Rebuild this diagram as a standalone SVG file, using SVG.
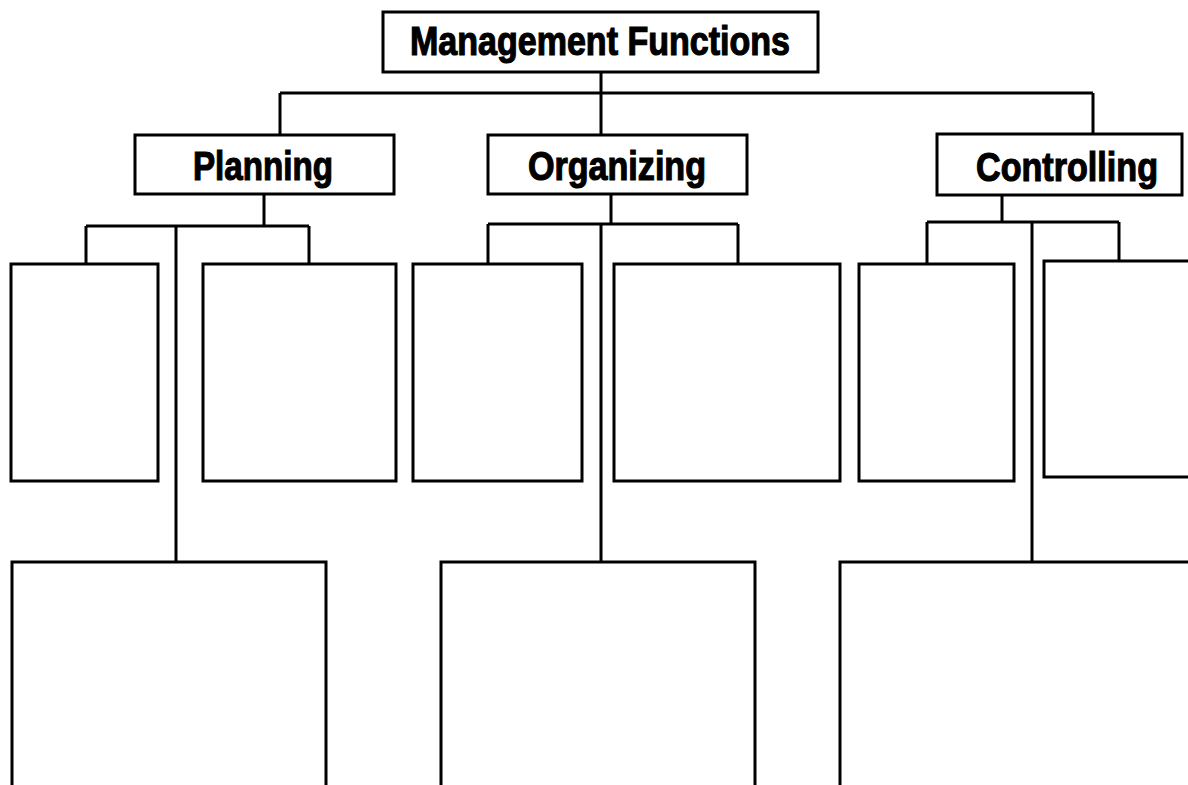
<svg xmlns="http://www.w3.org/2000/svg" width="1188" height="785" viewBox="0 0 1188 785">
<style>
.box{fill:#fff;stroke:#000;stroke-width:3}
.ln{fill:none;stroke:#000;stroke-width:3}
.lbl{font-family:"Liberation Sans",Arial,sans-serif;font-weight:bold;font-size:40px;fill:#000;stroke:#000;stroke-width:1.2;text-anchor:middle}
</style>
<rect width="1188" height="785" fill="#fff"/>
<g id="connectors" class="ln">
<path d="M601 72V93M280 93H1093M280 93V135M601 93V135M1093 93V134"/>
<path d="M264 194V226M86 226H309M86 226V264M309 226V264M176 226V562"/>
<path d="M611 194V224M488 224H738M488 224V264M738 224V264M601 224V562"/>
<path d="M1002 195V222M927 222H1119M927 222V264M1119 222V261M1032 222V562"/>
</g>
<g id="management">
<rect class="box" x="383" y="12" width="435" height="60"/>
<text class="lbl" x="600" y="55" textLength="380" lengthAdjust="spacingAndGlyphs">Management Functions</text>
</g>
<g id="planning">
<rect class="box" x="135" y="135" width="259" height="59"/>
<text class="lbl" x="263" y="180" textLength="140" lengthAdjust="spacingAndGlyphs">Planning</text>
</g>
<g id="organizing">
<rect class="box" x="488" y="135" width="259" height="59"/>
<text class="lbl" x="617" y="180" textLength="178" lengthAdjust="spacingAndGlyphs">Organizing</text>
</g>
<g id="controlling">
<rect class="box" x="937" y="134" width="245" height="61"/>
<text class="lbl" x="1067" y="181" textLength="182" lengthAdjust="spacingAndGlyphs">Controlling</text>
</g>
<g id="p1"><rect class="box" x="11" y="264" width="147" height="217"/></g>
<g id="p2"><rect class="box" x="203" y="264" width="193" height="217"/></g>
<g id="p3"><rect class="box" x="12" y="562" width="314" height="260"/></g>
<g id="o1"><rect class="box" x="413" y="264" width="169" height="217"/></g>
<g id="o2"><rect class="box" x="614" y="264" width="226" height="217"/></g>
<g id="o3"><rect class="box" x="441" y="562" width="314" height="260"/></g>
<g id="c1"><rect class="box" x="859" y="264" width="155" height="217"/></g>
<g id="c2"><rect class="box" x="1044" y="261" width="200" height="216"/></g>
<g id="c3"><rect class="box" x="840" y="562" width="400" height="260"/></g>
</svg>
